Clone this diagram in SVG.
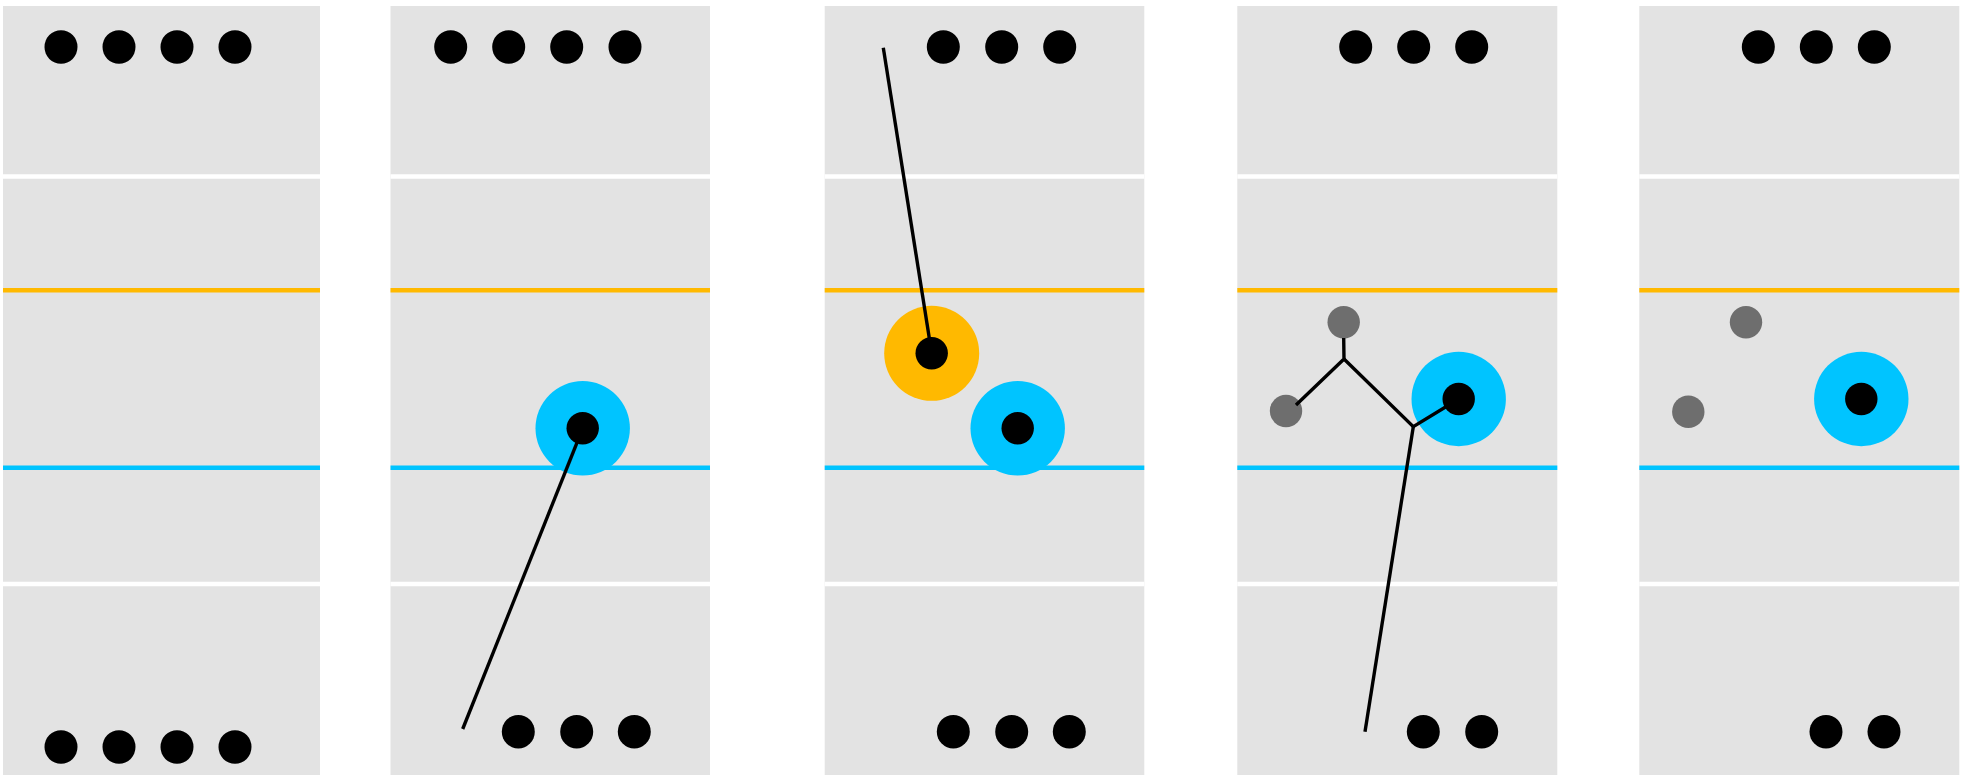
<svg xmlns="http://www.w3.org/2000/svg" width="1965" height="775" viewBox="0 0 1965 775">
<defs>
<style>
.panel{fill:#e3e3e3}
.sep{stroke:#ffffff;stroke-width:4.5}
.ol{stroke:#ffb900;stroke-width:4.5}
.bl{stroke:#00c4ff;stroke-width:4.5}
.dot{fill:#000000}
.gdot{fill:#6e6e6e}
.ring-b{fill:#00c4ff}
.ring-o{fill:#ffb900}
.conn{stroke:#000000;stroke-width:3.4;fill:none;stroke-linejoin:miter}
</style>
</defs>
<rect width="1965" height="775" fill="#ffffff"/>
<g id="panel1">
<rect class="panel" x="3" y="6" width="317" height="769"/>
<line class="sep" x1="3" y1="176.5" x2="320" y2="176.5"/>
<line class="sep" x1="3" y1="584" x2="320" y2="584"/>
<line class="ol" x1="3" y1="290.3" x2="320" y2="290.3"/>
<line class="bl" x1="3" y1="467.7" x2="320" y2="467.7"/>
<ellipse class="dot" cx="61" cy="47" rx="16.5" ry="16.8"/>
<ellipse class="dot" cx="119" cy="47" rx="16.5" ry="16.8"/>
<ellipse class="dot" cx="177" cy="47" rx="16.5" ry="16.8"/>
<ellipse class="dot" cx="235" cy="47" rx="16.5" ry="16.8"/>
<ellipse class="dot" cx="61" cy="747" rx="16.5" ry="16.8"/>
<ellipse class="dot" cx="119" cy="747" rx="16.5" ry="16.8"/>
<ellipse class="dot" cx="177" cy="747" rx="16.5" ry="16.8"/>
<ellipse class="dot" cx="235" cy="747" rx="16.5" ry="16.8"/>
</g>
<g id="panel2">
<rect class="panel" x="390.5" y="6" width="319.5" height="769"/>
<line class="sep" x1="390.5" y1="176.5" x2="710" y2="176.5"/>
<line class="sep" x1="390.5" y1="584" x2="710" y2="584"/>
<line class="ol" x1="390.5" y1="290.3" x2="710" y2="290.3"/>
<line class="bl" x1="390.5" y1="467.7" x2="710" y2="467.7"/>
<ellipse class="dot" cx="450.7" cy="47" rx="16.5" ry="16.8"/>
<ellipse class="dot" cx="508.7" cy="47" rx="16.5" ry="16.8"/>
<ellipse class="dot" cx="566.7" cy="47" rx="16.5" ry="16.8"/>
<ellipse class="dot" cx="625" cy="47" rx="16.5" ry="16.8"/>
<circle class="ring-b" cx="582.7" cy="428.3" r="47.2"/>
<circle class="dot" cx="582.7" cy="428.3" r="16.2"/>
<ellipse class="dot" cx="518.3" cy="731.7" rx="16.5" ry="16.8"/>
<ellipse class="dot" cx="576.7" cy="731.7" rx="16.5" ry="16.8"/>
<ellipse class="dot" cx="634.3" cy="731.7" rx="16.5" ry="16.8"/>
</g>
<g id="panel3">
<rect class="panel" x="824.7" y="6" width="319.6" height="769"/>
<line class="sep" x1="824.7" y1="176.5" x2="1144.3" y2="176.5"/>
<line class="sep" x1="824.7" y1="584" x2="1144.3" y2="584"/>
<line class="ol" x1="824.7" y1="290.3" x2="1144.3" y2="290.3"/>
<line class="bl" x1="824.7" y1="467.7" x2="1144.3" y2="467.7"/>
<ellipse class="dot" cx="943.3" cy="47" rx="16.5" ry="16.8"/>
<ellipse class="dot" cx="1001.7" cy="47" rx="16.5" ry="16.8"/>
<ellipse class="dot" cx="1059.7" cy="47" rx="16.5" ry="16.8"/>
<circle class="ring-o" cx="931.7" cy="353.3" r="47.5"/>
<circle class="dot" cx="931.7" cy="353.3" r="16.2"/>
<circle class="ring-b" cx="1017.7" cy="428.3" r="47.2"/>
<circle class="dot" cx="1017.7" cy="428.3" r="16.2"/>
<ellipse class="dot" cx="953.3" cy="731.7" rx="16.5" ry="16.8"/>
<ellipse class="dot" cx="1011.7" cy="731.7" rx="16.5" ry="16.8"/>
<ellipse class="dot" cx="1069.3" cy="731.7" rx="16.5" ry="16.8"/>
</g>
<g id="panel4">
<rect class="panel" x="1237.3" y="6" width="320" height="769"/>
<line class="sep" x1="1237.3" y1="176.5" x2="1557.3" y2="176.5"/>
<line class="sep" x1="1237.3" y1="584" x2="1557.3" y2="584"/>
<line class="ol" x1="1237.3" y1="290.3" x2="1557.3" y2="290.3"/>
<line class="bl" x1="1237.3" y1="467.7" x2="1557.3" y2="467.7"/>
<ellipse class="dot" cx="1355.7" cy="47" rx="16.5" ry="16.8"/>
<ellipse class="dot" cx="1413.7" cy="47" rx="16.5" ry="16.8"/>
<ellipse class="dot" cx="1471.7" cy="47" rx="16.5" ry="16.8"/>
<circle class="ring-b" cx="1458.7" cy="399" r="47.2"/>
<circle class="dot" cx="1458.7" cy="399" r="16.2"/>
<circle class="gdot" cx="1343.7" cy="322.3" r="16.2"/>
<circle class="gdot" cx="1286" cy="411" r="16.2"/>
<ellipse class="dot" cx="1423.3" cy="731.7" rx="16.5" ry="16.8"/>
<ellipse class="dot" cx="1481.7" cy="731.7" rx="16.5" ry="16.8"/>
</g>
<g id="panel5">
<rect class="panel" x="1639.3" y="6" width="320" height="769"/>
<line class="sep" x1="1639.3" y1="176.5" x2="1959.3" y2="176.5"/>
<line class="sep" x1="1639.3" y1="584" x2="1959.3" y2="584"/>
<line class="ol" x1="1639.3" y1="290.3" x2="1959.3" y2="290.3"/>
<line class="bl" x1="1639.3" y1="467.7" x2="1959.3" y2="467.7"/>
<ellipse class="dot" cx="1758.3" cy="47" rx="16.5" ry="16.8"/>
<ellipse class="dot" cx="1816.3" cy="47" rx="16.5" ry="16.8"/>
<ellipse class="dot" cx="1874.3" cy="47" rx="16.5" ry="16.8"/>
<circle class="ring-b" cx="1861.3" cy="399" r="47.2"/>
<circle class="dot" cx="1861.3" cy="399" r="16.2"/>
<circle class="gdot" cx="1746" cy="322.3" r="16.2"/>
<circle class="gdot" cx="1688.3" cy="411.7" r="16.2"/>
<ellipse class="dot" cx="1826" cy="731.7" rx="16.5" ry="16.8"/>
<ellipse class="dot" cx="1884" cy="731.7" rx="16.5" ry="16.8"/>
</g>
<g id="connectors">
<line class="conn" x1="462.7" y1="729" x2="582.7" y2="428.3"/>
<line class="conn" x1="883.3" y1="47.7" x2="931.7" y2="353.3"/>
<polyline class="conn" points="1343.7,338 1344,359 1296,405"/>
<polyline class="conn" points="1344,359 1413.3,426.7 1458.7,399"/>
<line class="conn" x1="1365" y1="731.7" x2="1413.3" y2="426.7"/>
</g>
</svg>
